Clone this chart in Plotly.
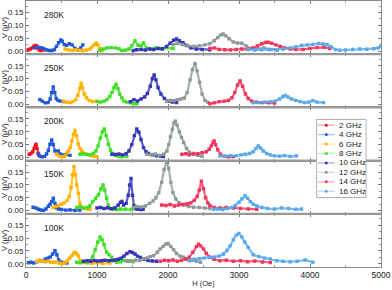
import plotly.graph_objects as go
from plotly.subplots import make_subplots

FREQS = ["2 GHz", "4 GHz", "6 GHz", "8 GHz", "10 GHz", "12 GHz", "14 GHz", "16 GHz"]
COLORS = ["#f0141e", "#2158d8", "#ffb300", "#3ee024", "#3535b8", "#8e9a9a", "#f2345c", "#58a8ec"]
TEMPS = ["280K", "250K", "200K", "150K", "100K"]
X_TICKS = [0, 1000, 2000, 3000, 4000, 5000]
Y_TICKS = [0.00, 0.05, 0.10, 0.15]

# ---------------- 280 K ----------------
h280_2 = [30, 60, 90, 110, 130, 150, 170, 190, 210, 240]
v280_2 = [0.005, 0.008, 0.012, 0.018, 0.022, 0.020, 0.010, 0.004, 0.002, 0.004]
h280_4 = [130, 170, 210, 250, 290, 330, 370, 400, 430, 460, 490, 510, 540, 570, 610, 650, 690, 730, 770, 800]
v280_4 = [0.012, 0.015, 0.013, 0.010, 0.004, 0.002, 0.002, 0.006, 0.018, 0.032, 0.043, 0.038, 0.025, 0.022, 0.028, 0.024, 0.010, 0.005, 0.012, 0.024]
h280_6 = [550, 600, 650, 700, 750, 800, 850, 900, 930, 960, 990, 1010, 1040, 1070]
v280_6 = [0.008, 0.004, 0.002, 0.005, 0.003, 0.001, 0.004, 0.008, 0.015, 0.025, 0.031, 0.024, 0.010, 0.002]
h280_8 = [1040, 1090, 1140, 1200, 1260, 1310, 1350, 1400, 1450, 1490, 1535, 1580, 1620, 1655, 1700, 1760, 1830, 1900, 1980, 2070]
v280_8 = [0.002, 0.008, 0.012, 0.013, 0.012, 0.009, 0.002, 0.003, 0.008, 0.020, 0.040, 0.022, 0.020, 0.031, 0.012, 0.008, 0.012, 0.010, 0.012, 0.010]
h280_10 = [1510, 1560, 1620, 1680, 1740, 1800, 1860, 1920, 1980, 2030, 2080, 2120, 2160, 2210, 2260, 2320, 2400, 2480, 2590]
v280_10 = [0.002, 0.005, 0.006, 0.004, 0.008, 0.006, 0.010, 0.008, 0.018, 0.030, 0.042, 0.047, 0.040, 0.032, 0.022, 0.012, 0.008, 0.006, 0.005]
h280_12 = [2070, 2130, 2200, 2280, 2360, 2440, 2520, 2590, 2650, 2700, 2740, 2775, 2810, 2860, 2920, 2980, 3040, 3100, 3160, 3250, 3350, 3450, 3540]
v280_12 = [0.025, 0.030, 0.025, 0.020, 0.018, 0.020, 0.024, 0.028, 0.040, 0.052, 0.062, 0.066, 0.060, 0.048, 0.035, 0.031, 0.030, 0.020, 0.010, 0.008, 0.012, 0.006, 0.004]
h280_14 = [2590, 2650, 2720, 2800, 2880, 2960, 3040, 3120, 3200, 3260, 3320, 3370, 3410, 3460, 3520, 3580, 3640, 3720, 3800, 3900, 4000, 4100, 4200, 4280]
v280_14 = [0.010, 0.012, 0.006, 0.005, 0.004, 0.006, 0.008, 0.007, 0.012, 0.020, 0.028, 0.033, 0.034, 0.030, 0.024, 0.018, 0.012, 0.008, 0.006, 0.006, 0.010, 0.013, 0.014, 0.010]
h280_16 = [3130, 3220, 3320, 3420, 3520, 3620, 3720, 3800, 3880, 3960, 4040, 4120, 4180, 4240, 4300, 4360, 4420, 4500, 4600, 4700, 4800, 4900, 4960, 5000]
v280_16 = [0.006, 0.004, 0.005, 0.006, 0.005, 0.008, 0.012, 0.016, 0.022, 0.024, 0.026, 0.029, 0.027, 0.025, 0.016, 0.006, 0.003, 0.004, 0.006, 0.008, 0.007, 0.009, 0.012, 0.018]

# ---------------- 250 K ----------------
h250_4 = [195, 230, 270, 310, 340, 360, 385, 405, 425, 450, 480, 525]
v250_4 = [0.018, 0.012, 0.005, 0.006, 0.020, 0.045, 0.067, 0.045, 0.022, 0.015, 0.012, 0.010]
h250_6 = [525, 570, 620, 660, 700, 730, 755, 775, 795, 820, 850, 890, 940, 1000]
v250_6 = [0.012, 0.008, 0.006, 0.010, 0.018, 0.035, 0.060, 0.082, 0.065, 0.040, 0.025, 0.015, 0.010, 0.012]
h250_8 = [1000, 1050, 1100, 1140, 1180, 1210, 1240, 1268, 1295, 1320, 1350, 1380, 1420, 1470, 1520, 1560]
v250_8 = [0.010, 0.008, 0.012, 0.018, 0.030, 0.045, 0.065, 0.078, 0.060, 0.040, 0.025, 0.012, 0.008, 0.005, 0.003, 0.002]
h250_10 = [1470, 1520, 1570, 1620, 1670, 1710, 1750, 1780, 1805, 1830, 1860, 1900, 1950, 2000, 2060, 2120]
v250_10 = [0.010, 0.018, 0.012, 0.020, 0.028, 0.042, 0.070, 0.100, 0.114, 0.095, 0.065, 0.040, 0.022, 0.012, 0.008, 0.006]
h250_12 = [1980, 2030, 2080, 2130, 2180, 2230, 2270, 2310, 2345, 2380, 2410, 2445, 2480, 2520, 2560]
v250_12 = [0.012, 0.015, 0.014, 0.018, 0.020, 0.024, 0.045, 0.095, 0.135, 0.159, 0.130, 0.085, 0.040, 0.015, 0.008]
h250_14 = [2590, 2650, 2720, 2790, 2850, 2900, 2940, 2980, 3015, 3050, 3090, 3130, 3180, 3250, 3330, 3420, 3500]
v250_14 = [0.002, 0.005, 0.010, 0.012, 0.015, 0.025, 0.045, 0.075, 0.091, 0.070, 0.040, 0.022, 0.012, 0.008, 0.006, 0.005, 0.004]
h250_16 = [3200, 3280, 3360, 3440, 3510, 3570, 3620, 3650, 3690, 3740, 3800, 3860, 3920, 3980, 4040, 4100, 4190]
v250_16 = [0.005, 0.006, 0.008, 0.010, 0.012, 0.020, 0.030, 0.034, 0.028, 0.020, 0.015, 0.010, 0.006, 0.008, 0.014, 0.008, 0.006]

# ---------------- 200 K ----------------
h200_2 = [45, 70, 95, 115, 130, 142, 155, 170, 185]
v200_2 = [0.012, 0.015, 0.022, 0.035, 0.045, 0.051, 0.035, 0.015, 0.008]
h200_4 = [175, 200, 230, 260, 290, 315, 338, 362, 385, 408, 430, 455, 480, 520, 570, 620]
v200_4 = [0.013, 0.004, 0.002, 0.004, 0.013, 0.028, 0.051, 0.068, 0.050, 0.025, 0.020, 0.025, 0.013, 0.010, 0.012, 0.008]
h200_6 = [430, 460, 490, 520, 550, 575, 600, 625, 645, 668, 690, 712, 737, 760, 785, 820, 870, 920, 960, 1000]
v200_6 = [0.013, 0.006, 0.003, 0.002, 0.005, 0.018, 0.025, 0.040, 0.064, 0.090, 0.105, 0.085, 0.051, 0.035, 0.025, 0.015, 0.010, 0.006, 0.004, 0.003]
h200_8 = [760, 800, 850, 900, 950, 985, 1015, 1045, 1075, 1103, 1130, 1160, 1190, 1220, 1260, 1300, 1350, 1420]
v200_8 = [0.012, 0.014, 0.012, 0.010, 0.015, 0.025, 0.045, 0.075, 0.100, 0.111, 0.085, 0.051, 0.028, 0.015, 0.008, 0.004, 0.002, 0.004]
h200_10 = [1210, 1260, 1310, 1360, 1410, 1450, 1490, 1525, 1560, 1590, 1620, 1655, 1690, 1725, 1780, 1840, 1900, 1935]
v200_10 = [0.012, 0.011, 0.013, 0.010, 0.014, 0.025, 0.050, 0.085, 0.111, 0.098, 0.070, 0.038, 0.022, 0.015, 0.010, 0.006, 0.004, 0.003]
h200_12 = [1700, 1760, 1820, 1880, 1940, 1985, 2010, 2035, 2060, 2085, 2105, 2130, 2160, 2190, 2220, 2260, 2300, 2360, 2420, 2480]
v200_12 = [0.012, 0.010, 0.013, 0.008, 0.012, 0.025, 0.050, 0.080, 0.110, 0.135, 0.141, 0.125, 0.100, 0.078, 0.058, 0.035, 0.020, 0.012, 0.008, 0.004]
h200_14 = [2195, 2250, 2300, 2360, 2420, 2480, 2540, 2580, 2610, 2635, 2650, 2670, 2700, 2740, 2790, 2850, 2920]
v200_14 = [0.012, 0.014, 0.010, 0.015, 0.014, 0.018, 0.022, 0.032, 0.045, 0.058, 0.064, 0.050, 0.030, 0.012, 0.004, 0.002, 0.003]
h200_16 = [2730, 2800, 2880, 2960, 3030, 3090, 3150, 3200, 3240, 3272, 3305, 3342, 3390, 3440, 3500, 3570, 3640, 3720, 3810]
v200_16 = [0.006, 0.005, 0.007, 0.006, 0.010, 0.012, 0.015, 0.022, 0.035, 0.045, 0.036, 0.025, 0.015, 0.010, 0.006, 0.005, 0.007, 0.004, 0.006]

# ---------------- 150 K ----------------
h150_4 = [100, 140, 175, 210, 245, 280, 315, 340, 362, 385, 408, 432, 460, 500, 560, 620, 690, 760]
v150_4 = [0.013, 0.010, 0.005, 0.002, 0.001, 0.006, 0.017, 0.025, 0.035, 0.048, 0.028, 0.010, 0.006, 0.004, 0.002, 0.003, 0.001, 0.002]
h150_6 = [380, 420, 460, 500, 540, 580, 610, 635, 655, 676, 695, 715, 737, 760, 790, 830, 870, 900]
v150_6 = [0.012, 0.016, 0.020, 0.025, 0.030, 0.040, 0.055, 0.090, 0.140, 0.172, 0.140, 0.100, 0.067, 0.028, 0.012, 0.008, 0.006, 0.005]
h150_8 = [715, 760, 810, 860, 900, 940, 980, 1020, 1055, 1085, 1110, 1136, 1160, 1185, 1230, 1280, 1330, 1400, 1480, 1560]
v150_8 = [0.012, 0.015, 0.010, 0.012, 0.018, 0.035, 0.048, 0.062, 0.085, 0.100, 0.080, 0.048, 0.020, 0.008, 0.005, 0.004, 0.006, 0.005, 0.004, 0.006]
h150_10 = [1000, 1050, 1100, 1150, 1200, 1250, 1300, 1330, 1350, 1375, 1410, 1440, 1460, 1480, 1500, 1520, 1545, 1580, 1620, 1650]
v150_10 = [0.010, 0.012, 0.008, 0.011, 0.007, 0.010, 0.022, 0.032, 0.036, 0.022, 0.028, 0.060, 0.100, 0.125, 0.060, 0.020, 0.008, 0.005, 0.004, 0.005]
h150_12 = [1510, 1560, 1620, 1680, 1740, 1790, 1830, 1870, 1910, 1945, 1980, 2010, 2040, 2070, 2110, 2160, 2220, 2290, 2360, 2440, 2520, 2590]
v150_12 = [0.012, 0.016, 0.014, 0.018, 0.028, 0.038, 0.050, 0.070, 0.110, 0.160, 0.188, 0.165, 0.110, 0.070, 0.045, 0.030, 0.022, 0.016, 0.013, 0.012, 0.010, 0.008]
h150_14 = [1910, 1970, 2030, 2090, 2150, 2210, 2270, 2320, 2370, 2410, 2440, 2470, 2500, 2530, 2560, 2590, 2650, 2730, 2820, 2920, 3020, 3130, 3250]
v150_14 = [0.022, 0.020, 0.024, 0.018, 0.022, 0.024, 0.026, 0.030, 0.040, 0.055, 0.080, 0.115, 0.085, 0.050, 0.030, 0.020, 0.012, 0.010, 0.012, 0.010, 0.008, 0.006, 0.005]
h150_16 = [2640, 2700, 2770, 2840, 2900, 2950, 3000, 3040, 3085, 3120, 3160, 3200, 3250, 3320, 3400, 3500, 3600, 3700, 3800, 3880]
v150_16 = [0.005, 0.006, 0.004, 0.008, 0.012, 0.020, 0.032, 0.045, 0.058, 0.048, 0.035, 0.025, 0.018, 0.012, 0.008, 0.006, 0.010, 0.008, 0.005, 0.006]

# ---------------- 100 K ----------------
h100_4 = [35, 70, 110, 150, 195, 235, 270, 305, 340, 375, 408, 435, 460, 500, 540, 575]
v100_4 = [0.004, 0.006, 0.003, 0.008, 0.013, 0.010, 0.018, 0.022, 0.026, 0.038, 0.051, 0.035, 0.015, 0.006, 0.004, 0.003]
h100_6 = [150, 190, 230, 270, 310, 350, 390, 430, 470, 510, 550, 580, 615, 645, 670, 690, 712, 737, 765, 800, 860, 930, 1000, 1080, 1180]
v100_6 = [0.010, 0.013, 0.011, 0.008, 0.010, 0.006, 0.005, 0.008, 0.002, 0.001, 0.003, 0.012, 0.022, 0.032, 0.040, 0.045, 0.040, 0.030, 0.012, 0.005, 0.003, 0.002, 0.004, 0.002, 0.003]
h100_8 = [715, 760, 810, 860, 900, 940, 975, 1010, 1042, 1070, 1100, 1136, 1170, 1207, 1245, 1280, 1330, 1380, 1430, 1470, 1510]
v100_8 = [0.006, 0.004, 0.008, 0.006, 0.012, 0.028, 0.055, 0.085, 0.105, 0.095, 0.075, 0.045, 0.035, 0.026, 0.012, 0.006, 0.008, 0.013, 0.010, 0.012, 0.008]
h100_10 = [810, 860, 910, 960, 1010, 1060, 1110, 1160, 1210, 1260, 1300, 1340, 1380, 1420, 1465, 1500, 1535, 1570, 1610, 1660, 1720, 1780, 1840]
v100_10 = [0.010, 0.012, 0.010, 0.013, 0.011, 0.012, 0.014, 0.012, 0.013, 0.015, 0.018, 0.022, 0.030, 0.040, 0.047, 0.044, 0.038, 0.030, 0.025, 0.018, 0.013, 0.011, 0.010]
h100_12 = [1420, 1480, 1540, 1600, 1650, 1700, 1750, 1800, 1850, 1890, 1930, 1970, 2000, 2040, 2080, 2120, 2170, 2220, 2280, 2340, 2400, 2460]
v100_12 = [0.012, 0.010, 0.014, 0.013, 0.019, 0.022, 0.028, 0.032, 0.045, 0.058, 0.068, 0.077, 0.079, 0.068, 0.055, 0.040, 0.030, 0.026, 0.018, 0.014, 0.010, 0.006]
h100_14 = [1890, 1950, 2010, 2070, 2130, 2190, 2250, 2300, 2350, 2400, 2430, 2460, 2500, 2540, 2590, 2650, 2730, 2820, 2920, 3020, 3120, 3220, 3330, 3440]
v100_14 = [0.010, 0.014, 0.012, 0.015, 0.010, 0.014, 0.018, 0.026, 0.045, 0.068, 0.076, 0.070, 0.058, 0.040, 0.026, 0.018, 0.012, 0.014, 0.010, 0.012, 0.008, 0.011, 0.007, 0.005]
h100_16 = [2300, 2370, 2440, 2510, 2580, 2650, 2720, 2780, 2830, 2875, 2920, 2960, 3000, 3040, 3080, 3130, 3200, 3280, 3360, 3440, 3530, 3620, 3720, 3820, 3930, 4040]
v100_16 = [0.012, 0.018, 0.020, 0.022, 0.024, 0.026, 0.030, 0.038, 0.052, 0.070, 0.095, 0.112, 0.118, 0.105, 0.085, 0.064, 0.035, 0.028, 0.022, 0.019, 0.012, 0.010, 0.008, 0.010, 0.015, 0.006]

PANELS = [
    [(h280_2, v280_2), (h280_4, v280_4), (h280_6, v280_6), (h280_8, v280_8),
     (h280_10, v280_10), (h280_12, v280_12), (h280_14, v280_14), (h280_16, v280_16)],
    [None, (h250_4, v250_4), (h250_6, v250_6), (h250_8, v250_8),
     (h250_10, v250_10), (h250_12, v250_12), (h250_14, v250_14), (h250_16, v250_16)],
    [(h200_2, v200_2), (h200_4, v200_4), (h200_6, v200_6), (h200_8, v200_8),
     (h200_10, v200_10), (h200_12, v200_12), (h200_14, v200_14), (h200_16, v200_16)],
    [None, (h150_4, v150_4), (h150_6, v150_6), (h150_8, v150_8),
     (h150_10, v150_10), (h150_12, v150_12), (h150_14, v150_14), (h150_16, v150_16)],
    [None, (h100_4, v100_4), (h100_6, v100_6), (h100_8, v100_8),
     (h100_10, v100_10), (h100_12, v100_12), (h100_14, v100_14), (h100_16, v100_16)],
]


def rgba(hexcol, a):
    h = hexcol.lstrip("#")
    r, g, b = int(h[0:2], 16), int(h[2:4], 16), int(h[4:6], 16)
    return f"rgba({r},{g},{b},{a})"


FONT = "Liberation Sans, Arial, sans-serif"
fig = make_subplots(rows=5, cols=1, shared_xaxes=True, vertical_spacing=0)

for r, panel in enumerate(PANELS, start=1):
    for i, series in enumerate(panel):
        if series is None:
            continue
        hx, vy = series
        fig.add_trace(go.Scatter(
            x=hx, y=vy, mode="lines+markers", name=FREQS[i], showlegend=False,
            line=dict(color=rgba(COLORS[i], 0.8), width=2.2),
            marker=dict(color=COLORS[i], size=3.4, symbol="square"),
        ), row=r, col=1)
    sfx = str(r) if r > 1 else ""
    fig.add_annotation(text=TEMPS[r - 1], x=230, xref="x" + sfx,
                       y=0.74, yref="y" + sfx + " domain",
                       xanchor="left", yanchor="middle", showarrow=False,
                       font=dict(family=FONT, size=8.5, color="#222"))
    fig.update_yaxes(
        range=[-0.0125, 0.195], tickvals=Y_TICKS, tickformat=".2f", automargin=False,
        ticks="inside", ticklen=3, tickcolor="#777", mirror="ticks",
        showline=True, linecolor="#8a8a8a", linewidth=1, showgrid=False, zeroline=False,
        minor=dict(dtick=0.025, ticks="inside", ticklen=2, tickcolor="#999"),
        tickfont=dict(family=FONT, size=8, color="#222"),
        title=dict(text="V (μV)", font=dict(family=FONT, size=7.5, color="#222"), standoff=2),
        row=r, col=1)
    fig.update_xaxes(
        range=[0, 5000], tickvals=X_TICKS, ticks="inside", ticklen=3, tickcolor="#777",
        mirror="ticks", showline=True, linecolor="#8a8a8a", linewidth=1, automargin=False,
        showgrid=False, zeroline=False,
        minor=dict(dtick=500, ticks="inside", ticklen=2, tickcolor="#999"),
        showticklabels=(r == 5),
        tickfont=dict(family=FONT, size=8.5, color="#222"),
        row=r, col=1)

fig.update_xaxes(title=dict(text="H (Oe)", font=dict(family=FONT, size=7.5, color="#222"), standoff=1),
                 row=5, col=1)

# panel separators
for k in range(1, 5):
    fig.add_shape(type="line", xref="paper", yref="paper", x0=0, x1=1, y0=k / 5, y1=k / 5,
                  line=dict(color="#9a9a9a", width=2))

# custom compact legend
L, R, T, B = 26, 381.5, 1, 266.7
def px(xp):
    return (xp - L) / (R - L)
def py(yp):
    return (B - yp) / (B - T)

fig.add_shape(type="rect", xref="paper", yref="paper", x0=px(317), x1=px(366.5), y0=py(197.3), y1=py(119.3),
              fillcolor="white", line=dict(color="#b0b0b0", width=1), layer="above")
for i, name in enumerate(FREQS):
    yy = 125 + 9.43 * i
    fig.add_shape(type="line", xref="paper", yref="paper", x0=px(318.5), x1=px(335), y0=py(yy), y1=py(yy),
                  line=dict(color=rgba(COLORS[i], 0.35), width=1.5), layer="above")
    fig.add_shape(type="circle", xref="paper", yref="paper", x0=px(325.2), x1=px(328.2),
                  y0=py(yy + 1.5), y1=py(yy - 1.5), fillcolor=COLORS[i],
                  line=dict(color=COLORS[i], width=0), layer="above")
    fig.add_annotation(text=name, xref="paper", yref="paper", x=px(337.5), y=py(yy),
                       xanchor="left", yanchor="middle", showarrow=False,
                       font=dict(family=FONT, size=8, color="#222"))

fig.update_layout(
    width=392, height=290, margin=dict(l=26, r=10.5, t=1, b=23.3),
    paper_bgcolor="white", plot_bgcolor="white", showlegend=False,
    font=dict(family=FONT, size=8, color="#222"),
)

fig.write_html("out.html", config={"displayModeBar": False, "staticPlot": True},
               post_script="document.body.style.margin='0';document.body.style.padding='0';"
                           "document.body.style.overflow='hidden';")
